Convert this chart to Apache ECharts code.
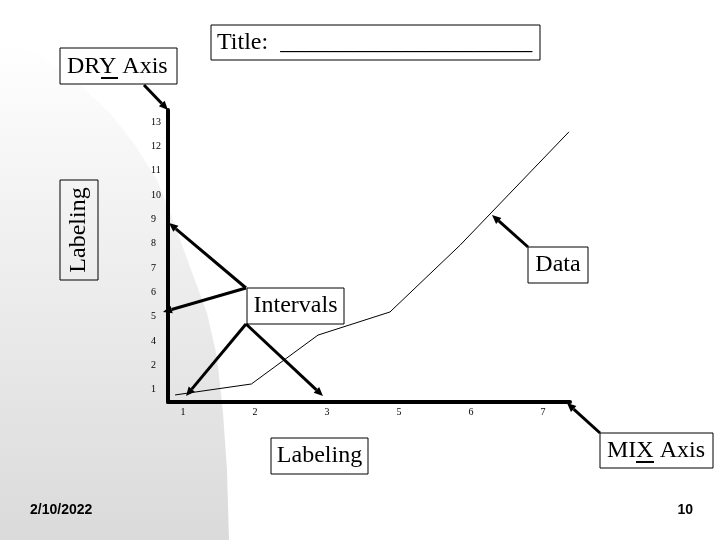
<!DOCTYPE html>
<html>
<head>
<meta charset="utf-8">
<script src="https://cdn.jsdelivr.net/npm/echarts@6/dist/echarts.min.js"></script>
<style>
  html, body { margin: 0; padding: 0; background: #fff; }
  #main { width: 720px; height: 540px; }
</style>
</head>
<body>
<div id="main"></div>
<script>
// tick labels as printed on the slide (3 is missing on both axes)
let xLabels = ['1', '2', '3', '5', '6', '7'];
let yLabels = ['1', '2', '4', '5', '6', '7', '8', '9', '10', '11', '12', '13'];

// data line, x in x-label positions, y in y-label positions
let dataX = [-0.11, 0.95, 1.875, 2.875, 3.85, 5.36];
let dataY = [-0.21, 0.24, 2.25, 3.2, 5.95, 10.6];

let serif = '"Liberation Serif", "Times New Roman", serif';

function arrow(x1, y1, x2, y2) {
    let dx = x2 - x1, dy = y2 - y1;
    let len = Math.sqrt(dx * dx + dy * dy);
    let ux = dx / len, uy = dy / len;
    let head = 9, half = 4;
    let bx = x2 - ux * head, by = y2 - uy * head;
    return [
        {
            type: 'line', z: 100,
            shape: { x1: x1, y1: y1, x2: bx, y2: by },
            style: { stroke: '#000', lineWidth: 3 }
        },
        {
            type: 'polygon', z: 100,
            shape: { points: [[x2, y2], [bx - uy * half, by + ux * half], [bx + uy * half, by - ux * half]] },
            style: { fill: '#000' }
        }
    ];
}

function box(x, y, w, h, text, rotate) {
    return [
        {
            type: 'rect', z: 100,
            shape: { x: x, y: y, width: w, height: h },
            style: { fill: 'transparent', stroke: '#000', lineWidth: 1 }
        },
        {
            type: 'text', z: 101,
            x: x + w / 2, y: y + h / 2,
            rotation: rotate ? Math.PI / 2 : 0,
            style: { text: text, fontSize: 24, fontFamily: serif, fill: '#000', align: 'center', verticalAlign: 'middle' }
        }
    ];
}

let myChart = echarts.init(document.getElementById('main'));

let graphics = [
    {
        type: 'polygon', z: -10, silent: true,
        shape: {
            points: [[0, 40], [40, 55], [80, 85], [110, 113], [135, 145], [157, 180], [173, 220],
                [190, 267], [207, 313], [217, 357], [223, 413], [227, 470], [229, 540],
                [229, 560], [0, 560]]
        },
        style: {
            fill: new echarts.graphic.LinearGradient(0, 0, 0, 1, [
                { offset: 0, color: '#ffffff' },
                { offset: 0.3, color: '#f3f3f3' },
                { offset: 1, color: '#d9d9d9' }
            ])
        }
    },
    // title box
    {
        type: 'rect', z: 100,
        shape: { x: 211, y: 25, width: 329, height: 35 },
        style: { fill: '#fff', stroke: '#000', lineWidth: 1 }
    },
    {
        type: 'text', z: 101, x: 217, y: 43,
        style: { text: 'Title:  _____________________', fontSize: 24, fontFamily: serif, fill: '#000', align: 'left', verticalAlign: 'middle' }
    },
    // DRY Axis box
    {
        type: 'rect', z: 100,
        shape: { x: 60, y: 48, width: 117, height: 36 },
        style: { fill: '#fff', stroke: '#000', lineWidth: 1 }
    },
    {
        type: 'text', z: 101, x: 67, y: 67,
        style: { text: 'DRY Axis', fontSize: 24, fontFamily: serif, fill: '#000', align: 'left', verticalAlign: 'middle' }
    },
    {
        type: 'line', z: 101,
        shape: { x1: 101, y1: 78, x2: 118, y2: 78 },
        style: { stroke: '#000', lineWidth: 2 }
    },
    // MIX Axis box
    {
        type: 'rect', z: 100,
        shape: { x: 600, y: 433, width: 113, height: 35 },
        style: { fill: '#fff', stroke: '#000', lineWidth: 1 }
    },
    {
        type: 'text', z: 101, x: 607, y: 451,
        style: { text: 'MIX Axis', fontSize: 24, fontFamily: serif, fill: '#000', align: 'left', verticalAlign: 'middle' }
    },
    {
        type: 'line', z: 101,
        shape: { x1: 636, y1: 462, x2: 654, y2: 462 },
        style: { stroke: '#000', lineWidth: 2 }
    },
    // footer
    {
        type: 'text', z: 101, x: 30, y: 510,
        style: { text: '2/10/2022', fontSize: 14, fontWeight: 'bold', fontFamily: '"Liberation Sans", Arial, sans-serif', fill: '#000', align: 'left', verticalAlign: 'middle' }
    },
    {
        type: 'text', z: 101, x: 693, y: 510,
        style: { text: '10', fontSize: 14, fontWeight: 'bold', fontFamily: '"Liberation Sans", Arial, sans-serif', fill: '#000', align: 'right', verticalAlign: 'middle' }
    }
];

graphics = graphics
    .concat(box(60, 180, 38, 100, 'Labeling', true))
    .concat(box(247, 288, 97, 36, 'Intervals'))
    .concat(box(528, 247, 60, 36, 'Data'))
    .concat(box(271, 438, 97, 36, 'Labeling'))
    .concat(arrow(144, 85, 168, 110))
    .concat(arrow(246, 288, 169, 223))
    .concat(arrow(246, 288, 163, 312))
    .concat(arrow(246, 324, 186, 396))
    .concat(arrow(246, 324, 323, 396))
    .concat(arrow(528, 247, 492, 215))
    .concat(arrow(600, 433, 567, 403));

let lineData = dataX.map(function (x, i) { return [x, dataY[i]]; });

let option = {
    animation: false,
    backgroundColor: '#fff',
    grid: { left: 168, right: 150, top: 110, bottom: 138 },
    xAxis: {
        type: 'value',
        min: -15 / 72,
        max: 387 / 72,
        axisLine: { onZero: false, lineStyle: { color: '#000', width: 4 } },
        axisTick: { show: false },
        splitLine: { show: false },
        axisLabel: {
            margin: 5,
            fontSize: 10,
            fontFamily: serif,
            color: '#000',
            showMinLabel: false,
            showMaxLabel: false,
            formatter: function (v) {
                let i = Math.round(v);
                return Math.abs(v - i) < 1e-6 && xLabels[i] ? xLabels[i] : '';
            }
        }
    },
    yAxis: [
        {
            type: 'category',
            data: yLabels,
            boundaryGap: true,
            axisLine: { onZero: false, lineStyle: { color: '#000', width: 4 } },
            axisTick: { show: false },
            splitLine: { show: false },
            axisLabel: { align: 'left', margin: 17, fontSize: 10, fontFamily: serif, color: '#000' }
        },
        {
            type: 'value',
            show: false,
            min: -0.5,
            max: 11.5,
            axisLine: { onZero: false },
            splitLine: { show: false }
        }
    ],
    series: [
        {
            type: 'line',
            yAxisIndex: 1,
            data: lineData,
            symbol: 'none',
            lineStyle: { color: '#000', width: 1 },
            z: 5
        }
    ],
    graphic: graphics
};

myChart.setOption(option);
</script>
</body>
</html>
